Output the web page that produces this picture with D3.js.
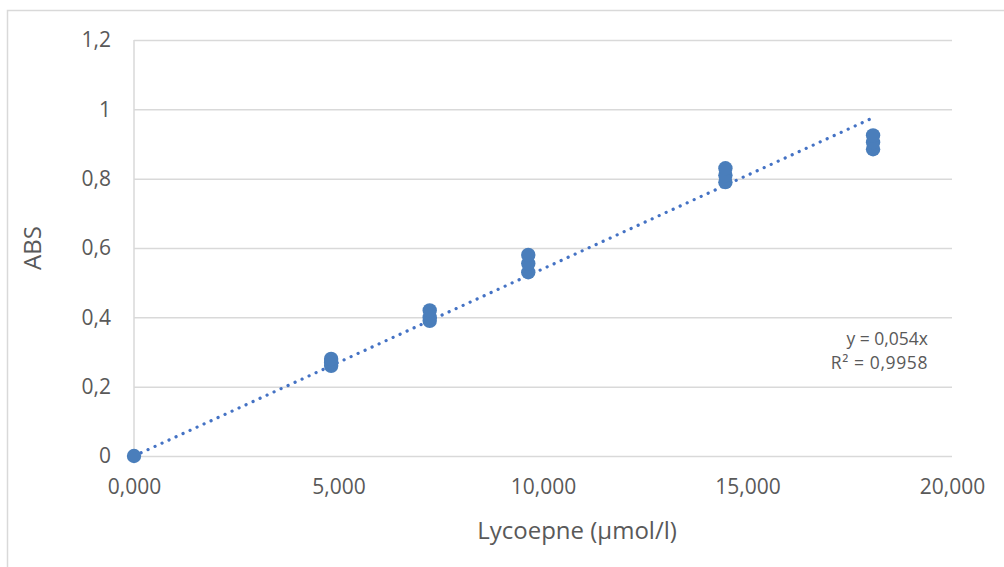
<!DOCTYPE html>
<html>
<head>
<meta charset="utf-8">
<script src="https://cdn.jsdelivr.net/npm/d3@7"></script>
<style>
  body { margin: 0; background: #fff; }
  svg { display: block; }
  text { font-family: "Open Sans", "Noto Sans", sans-serif; fill: #595959; }
</style>
</head>
<body>
<svg id="chart" width="1004" height="567"></svg>
<script>
// Calibration standards: lycopene concentration (µmol/l) and absorbance
const concentrations = [0, 4.82, 4.82, 4.82, 7.23, 7.23, 7.23, 9.64, 9.64, 9.64, 14.46, 14.46, 14.46, 18.07, 18.07, 18.07];
const absorbance =     [0, 0.26, 0.27, 0.28, 0.39, 0.40, 0.42, 0.53, 0.555, 0.58, 0.79, 0.81, 0.83, 0.885, 0.905, 0.925];
const slope = 0.054;          // linear fit through origin
const rSquared = "0,9958";
const xTicks = [0, 5, 10, 15, 20];
const yTicks = [0, 0.2, 0.4, 0.6, 0.8, 1, 1.2];
const xTitle = "Lycoepne (µmol/l)";
const yTitle = "ABS";

const locale = d3.formatLocale({ decimal: ",", thousands: ".", grouping: [3], currency: ["", ""] });
const fmtX = locale.format(".3f");
const fmtY = d => locale.format("~g")(d);

const svg = d3.select("#chart");
const plot = { left: 134, right: 952, top: 40, bottom: 456 };
const x = d3.scaleLinear().domain([0, 20]).range([plot.left, plot.right]);
const y = d3.scaleLinear().domain([0, 1.2]).range([plot.bottom, plot.top]);

// outer chart frame
svg.append("path")
  .attr("d", "M7.5,567 V10.5 H1004")
  .attr("fill", "none").attr("stroke", "#d9d9d9").attr("stroke-width", 1.5);

// horizontal gridlines with value labels
svg.append("g")
  .attr("transform", `translate(${plot.left},0)`)
  .call(d3.axisLeft(y).tickValues(yTicks).tickSize(-(plot.right - plot.left)).tickFormat(fmtY).tickPadding(23))
  .call(g => g.select(".domain").remove())
  .call(g => g.selectAll(".tick line").attr("stroke", "#d9d9d9").attr("stroke-width", 1.5))
  .call(g => g.selectAll(".tick text").attr("font-size", 21).attr("fill", "#595959")
        .style("font-family", "'Open Sans', sans-serif"));

// x axis labels
svg.append("g")
  .attr("transform", `translate(0,${plot.bottom})`)
  .call(d3.axisBottom(x).tickValues(xTicks).tickSize(0).tickFormat(fmtX).tickPadding(23))
  .call(g => g.select(".domain").remove())
  .call(g => g.selectAll(".tick text").attr("font-size", 21).attr("fill", "#595959")
        .style("font-family", "'Open Sans', sans-serif"));

// vertical value axis line
svg.append("line")
  .attr("x1", x(0)).attr("x2", x(0)).attr("y1", y(1.2)).attr("y2", y(0))
  .attr("stroke", "#d9d9d9").attr("stroke-width", 1.5);

// dotted trendline y = slope * x
const xMax = d3.max(concentrations);
svg.append("line")
  .attr("x1", x(0)).attr("y1", y(0))
  .attr("x2", x(xMax)).attr("y2", y(slope * xMax))
  .attr("stroke", "#4472c4").attr("stroke-width", 3.2)
  .attr("stroke-linecap", "round").attr("stroke-dasharray", "0.1 7.6");

// data points
svg.append("g").selectAll("circle")
  .data(concentrations.map((c, i) => [c, absorbance[i]]))
  .join("circle")
  .attr("cx", d => x(d[0])).attr("cy", d => y(d[1]))
  .attr("r", 7.2).attr("fill", "#4a7ebb");

// axis titles
svg.append("text")
  .attr("x", 577).attr("y", 539)
  .attr("text-anchor", "middle").attr("font-size", 24)
  .text(xTitle);
svg.append("text")
  .attr("transform", `translate(41,${(plot.top + plot.bottom) / 2}) rotate(-90)`)
  .attr("text-anchor", "middle").attr("font-size", 24)
  .text(yTitle);

// trendline equation
const eq = svg.append("text").attr("font-size", 17.5).attr("text-anchor", "end");
eq.append("tspan").attr("x", 928).attr("y", 345).text("y = " + locale.format(".3f")(slope) + "x");
eq.append("tspan").attr("x", 928).attr("y", 369).attr("letter-spacing", 0.6).text("R² = " + rSquared);
</script>
</body>
</html>
